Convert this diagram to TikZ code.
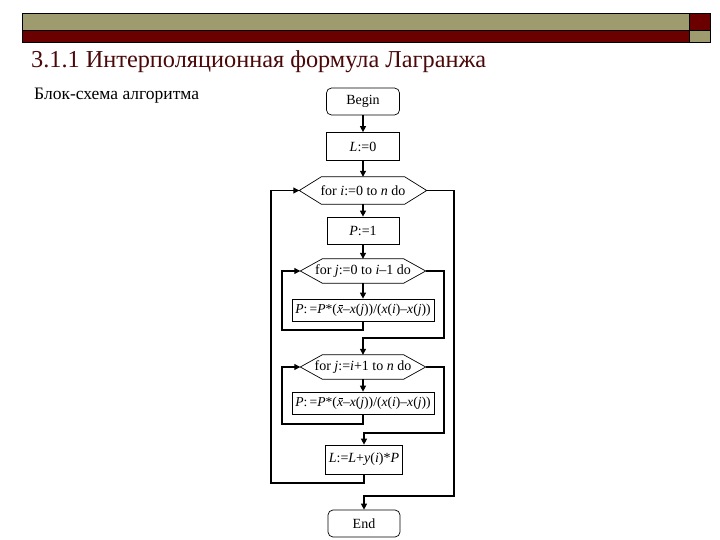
\documentclass[tikz,border=0pt]{standalone}
\usepackage{fontspec}
\setmainfont{Liberation Serif}
\usetikzlibrary{arrows.meta}
\definecolor{barolive}{HTML}{9E9B6E}
\definecolor{bardark}{HTML}{6A0000}
\definecolor{titlered}{HTML}{4A0808}
\newcommand{\xbarit}{\rlap{\kern0.12em\raisebox{0.56em}{\rule{0.32em}{0.05em}}}\textit{x}}
\begin{document}
\begin{tikzpicture}[x=1pt,y=-1pt,
  procbox/.style={draw,line width=0.7pt,inner sep=0pt,font=\fontsize{14}{16}\selectfont},
  termbox/.style={procbox,rounded corners=5pt},
  loophead/.style={inner sep=0pt,font=\fontsize{14}{16}\selectfont},
  widebox/.style={procbox,font=\fontsize{13.6}{16}\selectfont},
  hexline/.style={draw,line width=0.7pt},
  conn/.style={line width=1.1pt},
  arr/.style={conn,-{Triangle[length=6pt,width=6pt]}}]
\useasboundingbox (0,0) rectangle (720,540);
% header bar
\filldraw[fill=barolive,draw=black,line width=0.5pt] (22,13) rectangle (689,30);
\filldraw[fill=bardark,draw=black,line width=0.5pt] (22,30) rectangle (689,42);
\filldraw[fill=bardark,draw=black,line width=0.5pt] (689,13) rectangle (710,30);
\filldraw[fill=barolive,draw=black,line width=0.5pt] (689,30) rectangle (710,42);
% titles
\node[anchor=base west,inner sep=0pt,text=titlered,font=\fontsize{24.3}{27}\selectfont] (title) at (31,68) {3.1.1 Интерполяционная формула Лагранжа};
\node[anchor=base west,inner sep=0pt,font=\fontsize{17.5}{20}\selectfont] (sub) at (34,100) {Блок-схема алгоритма};
% nodes
\node[termbox,minimum width=73pt,minimum height=27pt] (begin) at (363,101.5) {Begin};
\node[procbox,minimum width=73pt,minimum height=28pt] (L0) at (363,146.5) {\textit{L}:=0};
\node[loophead,minimum width=127pt,minimum height=27pt] (fori) at (363,190.5) {for \textit{i}:=0 to \textit{n} do};
\node[procbox,minimum width=72pt,minimum height=27pt] (P1) at (363,230.5) {\textit{P}:=1};
\node[loophead,minimum width=125pt,minimum height=24pt] (forj1) at (363,271) {for \textit{j}:=0 to \textit{i}–1 do};
\node[widebox,minimum width=142pt,minimum height=22pt] (pb1) at (363,310) {\textit{P}:\,=\textit{P}*(\xbarit–\textit{x}(\textit{j}))/(\textit{x}(\textit{i})–\textit{x}(\textit{j}))};
\node[loophead,minimum width=125pt,minimum height=24pt] (forj2) at (363,367) {for \textit{j}:=\textit{i}+1 to \textit{n} do};
\node[widebox,minimum width=142pt,minimum height=22pt] (pb2) at (363,403) {\textit{P}:\,=\textit{P}*(\xbarit–\textit{x}(\textit{j}))/(\textit{x}(\textit{i})–\textit{x}(\textit{j}))};
\node[procbox,minimum width=77pt,minimum height=29pt] (Ls) at (364,459.5) {\textit{L}:=\textit{L}+\textit{y}(\textit{i})*\textit{P}};
\node[termbox,minimum width=72pt,minimum height=27pt] (end) at (364,523.5) {End};
% hexagon frames
\foreach \h in {fori,forj1,forj2}{
  \draw[hexline] (\h.west) -- ([xshift=22pt]\h.north west) -- ([xshift=-22pt]\h.north east) -- (\h.east) -- ([xshift=-22pt]\h.south east) -- ([xshift=22pt]\h.south west) -- cycle;
}
% straight connectors
\draw[arr] (begin) -- (L0);
\draw[arr] (L0) -- (fori);
\draw[arr] (fori) -- (P1);
\draw[arr] (P1) -- (forj1);
\draw[arr] (forj1) -- (pb1);
\draw[arr] (forj2) -- (pb2);
% inner loop 1
\draw[arr] (pb1.south) |- (282,330) |- (forj1.west);
\draw[arr] (forj1.east) -| (444,338) -| (forj2.north);
% inner loop 2
\draw[arr] (pb2.south) |- (282,424) |- (forj2.west);
\draw[arr] (forj2.east) -| (444,433) -| (Ls.north);
% outer loop
\draw[arr] (Ls.south) |- (271,483) |- (fori.west);
\draw[arr] (fori.east) -| (454,496) -| (end.north);
\end{tikzpicture}
\end{document}
